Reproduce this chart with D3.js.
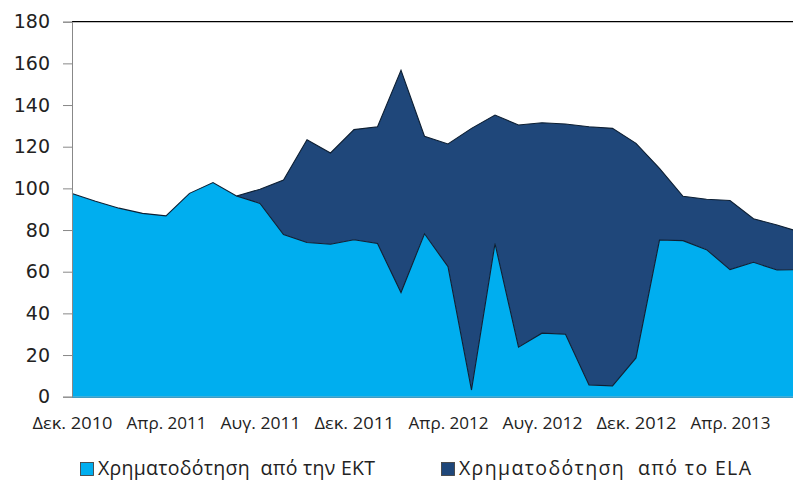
<!DOCTYPE html>
<html><head><meta charset="utf-8">
<script src="https://cdn.jsdelivr.net/npm/d3@7"></script>
<style>
html,body{margin:0;padding:0;background:#fff;}
svg{display:block;}
</style></head>
<body>
<svg id="chart" width="793" height="481"></svg>
<script>
// Months Dec 2010 .. Jul 2013
const months = ["Δεκ. 2010","Ιαν. 2011","Φεβ. 2011","Μαρ. 2011","Απρ. 2011","Μάι. 2011","Ιούν. 2011","Ιούλ. 2011","Αυγ. 2011","Σεπ. 2011","Οκτ. 2011","Νοέ. 2011","Δεκ. 2011","Ιαν. 2012","Φεβ. 2012","Μαρ. 2012","Απρ. 2012","Μάι. 2012","Ιούν. 2012","Ιούλ. 2012","Αυγ. 2012","Σεπ. 2012","Οκτ. 2012","Νοέ. 2012","Δεκ. 2012","Ιαν. 2013","Φεβ. 2013","Μαρ. 2013","Απρ. 2013","Μάι. 2013","Ιούν. 2013","Ιούλ. 2013"];
const ecb = [97.5,93.8,90.5,88.0,86.8,97.6,102.8,96.3,92.8,77.8,74.0,73.2,75.3,73.5,50.0,78.2,62.4,3.2,73.5,23.8,30.5,30.0,5.6,5.2,18.6,75.2,74.9,70.6,61.0,64.5,60.8,61.0];
const ela = [0,0,0,0,0,0,0,0,6.8,26.2,49.3,43.8,52.9,56.1,106.7,46.8,58.9,125.6,61.7,106.6,101.0,100.9,124.0,123.6,103.0,34.4,21.3,24.2,33.2,20.9,21.6,18.0];
const xTickLabels = ["Δεκ. 2010","Απρ. 2011","Αυγ. 2011","Δεκ. 2011","Απρ. 2012","Αυγ. 2012","Δεκ. 2012","Απρ. 2013"];
const yTicks = [0,20,40,60,80,100,120,140,160,180];
const seriesNames = ["Χρηματοδότηση  από την ΕΚΤ","Χρηματοδότηση  από το ELA"];
const colors = ["#00AEEF","#1F477A"];

const svg = d3.select("#chart");
const x = d3.scaleLinear().domain([0, months.length-1]).range([72, 800.5]);
const y = d3.scaleLinear().domain([0,180]).range([396.7, 21.7]);

const data = months.map((m,i)=>({i, ecb: ecb[i], ela: ela[i]}));
const stack = d3.stack().keys(["ecb","ela"]);
const layers = stack(data);

const area = d3.area().x(d=>x(d.data.i)).y0(d=>y(d[0])).y1(d=>y(d[1]));
const line = d3.line().x(d=>x(d.data.i)).y(d=>y(d[1]));

svg.append("g").selectAll("path.area").data(layers).join("path")
  .attr("d", area).attr("fill",(d,k)=>colors[k]);

// boundary lines
svg.append("path").datum(layers[0]).attr("d", line).attr("fill","none").attr("stroke","#0d1f33").attr("stroke-width",1.1);
const elaPart = layers[1].filter(d=>d.data.i>=7);
svg.append("path").datum(elaPart).attr("d", line).attr("fill","none").attr("stroke","#0d1f33").attr("stroke-width",1.1);

// top border
svg.append("line").attr("x1",72).attr("x2",793).attr("y1",y(180)).attr("y2",y(180)).attr("stroke","#000").attr("stroke-width",1.3);

// bottom axis line
svg.append("line").attr("x1",72).attr("x2",793).attr("y1",y(0)+0.5).attr("y2",y(0)+0.5).attr("stroke","#3d9cc4").attr("stroke-width",1.5);

// y axis
const yAxis = d3.axisLeft(y).tickValues(yTicks).tickSize(9).tickPadding(13);
const gy = svg.append("g").attr("transform","translate(72,0)").call(yAxis);
gy.select(".domain").attr("stroke","#888");
gy.selectAll(".tick line").attr("stroke","#888");
gy.selectAll("text").attr("font-family","DejaVu Sans, sans-serif").attr("font-size",19).attr("fill","#222");

// x labels
const xIdx = xTickLabels.map(l=>months.indexOf(l));
const xAxis = d3.axisBottom(x).tickValues(xIdx).tickFormat((d,k)=>xTickLabels[k]).tickSize(0).tickPadding(20);
const gx = svg.append("g").attr("transform",`translate(0,${y(0)})`).call(xAxis);
gx.select(".domain").remove();
gx.selectAll("text").attr("font-family","Open Sans, sans-serif").attr("font-size",17).attr("fill","#222")
  .attr("textLength",80).attr("lengthAdjust","spacingAndGlyphs");

// legend
const legX = [80, 441];
const legLen = [277, 292];
const lg = svg.append("g");
seriesNames.forEach((n,k)=>{
  lg.append("rect").attr("x",legX[k]+0.5).attr("y",462.5).attr("width",13).attr("height",13)
    .attr("fill",colors[k]).attr("stroke","#444").attr("stroke-width",0.9);
  lg.append("text").attr("x",legX[k]+18).attr("y",475).text(n)
    .attr("font-family","Open Sans, sans-serif").attr("font-size",19.5).attr("fill","#222")
    .attr("textLength",legLen[k]).attr("lengthAdjust","spacing")
    .style("white-space","pre");
});
</script>
</body></html>
